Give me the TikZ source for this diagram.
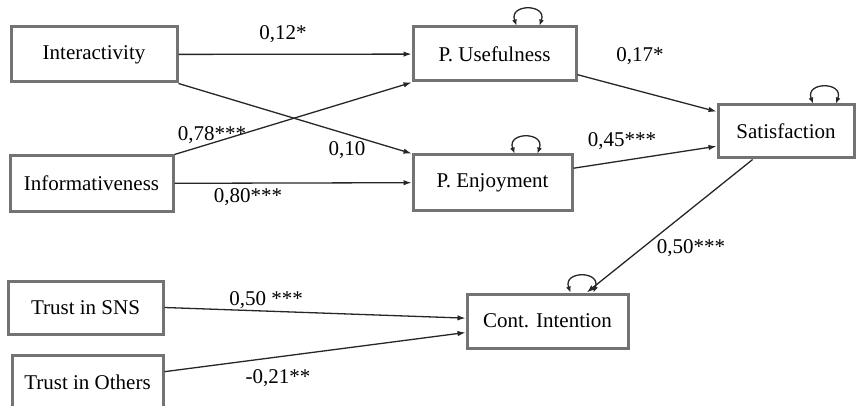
\documentclass[tikz,border=0pt]{standalone}
\usepackage{fontspec}
\setmainfont{Liberation Serif}
\usetikzlibrary{arrows.meta}

\begin{document}
\begin{tikzpicture}[
    x=1pt, y=-1pt,
    every node/.style={
      font=\fontsize{21}{25}\selectfont
    },
    var/.style={
      rectangle,
      draw=black!55,
      line width=3pt,
      minimum height=55pt,
      inner sep=0pt
    },
    effect/.style={
      -{Latex[length=8pt,width=5.5pt]},
      draw=black!85,
      line width=1.3pt
    },
    resid/.style={
      {Latex[length=6pt,width=5pt]}-{Latex[length=6pt,width=5pt]},
      draw=black!85,
      line width=1.3pt
    }
    ]
    \useasboundingbox (0,0) rectangle (856,406);

    \node[var, minimum width=166pt] (inter)  at (94,54.5)    {Interactivity};
    \node[var, minimum width=163pt] (info)   at (91.5,183.5) {Informativeness};
    \node[var, minimum width=163pt, minimum height=54pt] (puse) at (494.5,54) {P. Usefulness};
    \node[var, minimum width=159pt] (penj)   at (492.5,182.5) {P. Enjoyment};
    \node[var, minimum width=136pt, minimum height=53pt] (sat) at (786,131.5) {Satisfaction};
    \node[var, minimum width=155pt, minimum height=53pt] (sns) at (85.5,307.5) {Trust in SNS};
    \node[var, minimum width=151pt] (others) at (87.5,382.5) {Trust in Others};
    \node[var, minimum width=161pt, minimum height=54pt] (cont) at (547.5,321) {Cont. Intention};

    \draw[effect] (inter) -- (puse);
    \draw[effect] (inter.south east) -- (penj.north west);
    \draw[effect] (info.north east) -- (puse.south west);
    \draw[effect] (info) -- (penj);
    \draw[effect] (puse.-14) -- (sat.164);
    \draw[effect] (penj.10) -- (sat.192);
    \draw[effect] (sat.220) -- (cont.36);
    \draw[effect] (sns.east) -- (cont.178);
    \draw[effect] (others.8) -- (cont.188);

    \foreach \v/\a in {puse/22,penj/22,sat/27,cont/23}{
      \draw[resid] ([xshift=\a]\v.north) .. controls +(-8,-22) and +(8,-22) .. ([xshift=\a+23]\v.north);
    }

    \node (l12) at (283,34)  {0,12*};
    \node (l10) at (347,150) {0,10};
    \node (l78) at (212,135) {0,78***};
    \node (l80) at (248,197) {0,80***};
    \node (l17) at (640,56)  {0,17*};
    \node (l45) at (622,141) {0,45***};
    \node (l50) at (691,248) {0,50***};
    \node (lsns) at (266,300) {0,50 ***};
    \node (loth) at (278,378) {-0,21**};
\end{tikzpicture}
\end{document}
